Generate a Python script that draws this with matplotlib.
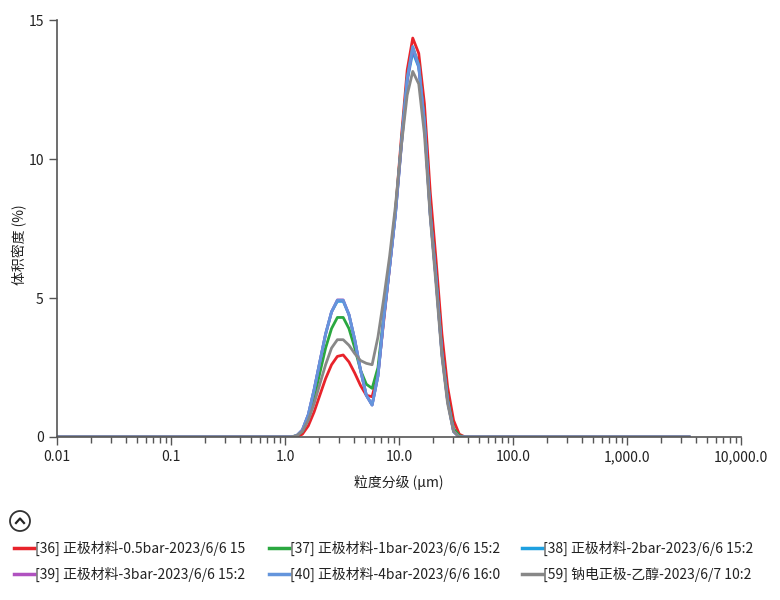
import numpy as np
import matplotlib
matplotlib.use('Agg')
import matplotlib.pyplot as plt
from matplotlib.lines import Line2D
from matplotlib.patches import Circle
from matplotlib.ticker import FixedLocator, LogLocator, NullFormatter

plt.rcParams['font.family'] = ['Noto Sans CJK SC', 'DejaVu Sans']

# 粒径 (µm)
sizes = [0.01, 1.0, 1.13, 1.27, 1.42, 1.6, 1.8, 2.02, 2.27, 2.56, 2.88, 3.24,
         3.64, 4.09, 4.6, 5.17, 5.81, 6.54, 7.36, 8.27, 9.3, 10.5, 11.8,
         13.2, 14.9, 16.7, 18.8, 21.1, 23.8, 26.7, 30.1, 33.8, 38.0, 3500.0]

# 体积密度 (%)
red_05bar = [0, 0, 0, 0.02, 0.1, 0.4, 0.9, 1.5, 2.1, 2.6, 2.9, 2.95,
             2.7, 2.3, 1.85, 1.5, 1.45, 2.3, 4.2, 6.1, 8.1, 10.8, 13.2,
             14.35, 13.8, 12.0, 8.8, 6.4, 3.7, 1.8, 0.6, 0.1, 0, 0]
green_1bar = [0, 0, 0, 0.05, 0.2, 0.7, 1.4, 2.3, 3.2, 3.9, 4.3, 4.3,
              3.9, 3.2, 2.4, 1.9, 1.75, 2.5, 4.4, 6.2, 8.1, 10.6, 12.9,
              14.0, 13.4, 11.4, 8.1, 5.8, 3.1, 1.4, 0.3, 0.05, 0, 0]
cyan_2bar = [0, 0, 0, 0.05, 0.25, 0.8, 1.7, 2.7, 3.7, 4.5, 4.88, 4.88,
             4.4, 3.5, 2.4, 1.5, 1.15, 2.2, 4.3, 6.1, 8.0, 10.5, 12.8,
             13.85, 13.3, 11.3, 8.0, 5.7, 3.0, 1.3, 0.2, 0, 0, 0]
purple_3bar = [0, 0, 0, 0.05, 0.25, 0.8, 1.7, 2.7, 3.7, 4.5, 4.93, 4.93,
               4.4, 3.5, 2.4, 1.5, 1.15, 2.2, 4.3, 6.1, 8.0, 10.5, 12.85,
               14.0, 13.35, 11.3, 8.0, 5.7, 3.0, 1.3, 0.2, 0, 0, 0]
blue_4bar = [0, 0, 0, 0.05, 0.25, 0.8, 1.7, 2.7, 3.7, 4.5, 4.92, 4.92,
             4.4, 3.5, 2.4, 1.5, 1.15, 2.2, 4.3, 6.1, 8.0, 10.6, 12.9,
             14.05, 13.35, 11.3, 8.0, 5.7, 3.0, 1.3, 0.2, 0, 0, 0]
gray_ethanol = [0, 0, 0, 0.05, 0.2, 0.6, 1.2, 1.9, 2.6, 3.2, 3.5, 3.5,
                3.3, 3.0, 2.75, 2.65, 2.6, 3.6, 5.0, 6.5, 8.3, 10.5, 12.3,
                13.15, 12.7, 10.9, 7.9, 5.5, 2.9, 1.2, 0.2, 0, 0, 0]

labels = ['[36] 正极材料-0.5bar-2023/6/6 15',
          '[37] 正极材料-1bar-2023/6/6 15:2',
          '[38] 正极材料-2bar-2023/6/6 15:2',
          '[39] 正极材料-3bar-2023/6/6 15:2',
          '[40] 正极材料-4bar-2023/6/6 16:0',
          '[59] 钠电正极-乙醇-2023/6/7 10:2']
colors = ['#e8232b', '#2aa840', '#1ea0e0', '#b052c0', '#6495dc', '#888888']
series = [red_05bar, green_1bar, cyan_2bar, purple_3bar, blue_4bar, gray_ethanol]

xticks = [0.01, 0.1, 1, 10, 100, 1000, 10000]
xticklabels = ['0.01', '0.1', '1.0', '10.0', '100.0', '1,000.0', '10,000.0']
yticks = [0, 5, 10, 15]

fig = plt.figure(figsize=(7.8, 6), dpi=100)
ax = fig.add_axes([57 / 780, 1 - 437 / 600, (741 - 57) / 780, (437 - 20) / 600])

for ys, c in zip(series, colors):
    ax.plot(sizes, ys, color=c, lw=2, solid_joinstyle='round')

ax.set_xscale('log')
ax.set_xlim(0.01, 10000)
ax.set_ylim(0, 15)
ax.xaxis.set_major_locator(FixedLocator(xticks))
ax.set_xticklabels(xticklabels)
ax.xaxis.set_minor_locator(LogLocator(base=10, subs=np.arange(2, 10)))
ax.xaxis.set_minor_formatter(NullFormatter())
ax.set_yticks(yticks)

for s in ['top', 'right']:
    ax.spines[s].set_visible(False)
for s in ['left', 'bottom']:
    ax.spines[s].set_color('#555555')
    ax.spines[s].set_linewidth(1.2)
ax.tick_params(axis='both', which='major', length=6, width=1, color='#555555',
               labelsize=10, labelcolor='#222222')
ax.tick_params(axis='x', which='minor', length=4, width=1, color='#555555')
ax.set_xlabel('粒度分级 (μm)', fontsize=10, color='#222222', labelpad=8)
ax.set_ylabel('体积密度 (%)', fontsize=10, color='#222222')
ax.yaxis.set_label_coords((27 - 57) / 684, (437 - 245) / 417)

# 图例区域（像素坐标）
lg = fig.add_axes([0, 0, 1, 1], facecolor='none')
lg.set_xlim(0, 780)
lg.set_ylim(600, 0)
lg.axis('off')
lg.add_patch(Circle((20, 521), 10, fill=False, ec='#333333', lw=1.3))
lg.plot([16, 20, 24], [523, 518.5, 523], color='#222222', lw=1.6)

col_x = [14, 269, 522]
row_y = [548, 574]
for i, (lab, c) in enumerate(zip(labels, colors)):
    x0 = col_x[i % 3]
    y0 = row_y[i // 3]
    lg.add_line(Line2D([x0, x0 + 20], [y0, y0], color=c, lw=2.5))
    lg.text(x0 + 21, y0, lab, fontsize=10, color='#222222', va='center', ha='left')

fig.savefig('out.png', dpi=100)
